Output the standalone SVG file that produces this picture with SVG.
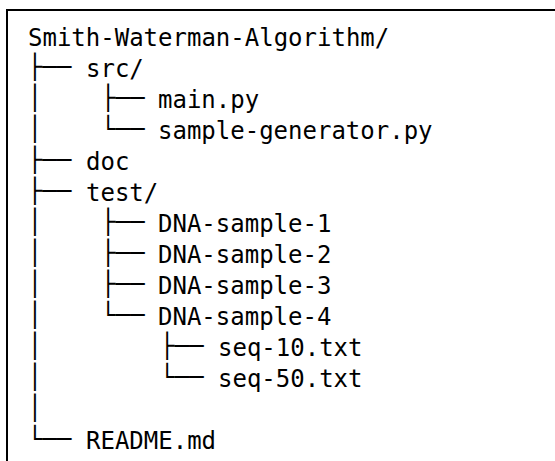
<svg xmlns="http://www.w3.org/2000/svg" width="555" height="461" viewBox="0 0 555 461">
  <style>
    text { font-family: "DejaVu Sans Mono", "Liberation Mono", monospace; font-size: 24px; fill: #000; white-space: pre; }
    .frame { fill: none; stroke: #000; stroke-width: 2; }
  </style>
  <rect width="555" height="461" fill="#fff"/>
  <!-- frame: open on the right and bottom -->
  <path class="frame" d="M7,461 V10 H555"/>

  <!-- tree branches drawn with box-drawing characters -->
  <g id="connectors" transform="translate(0,-2)">
    <!-- level 1 -->
    <text x="27.8" y="77">├──</text>
    <text x="27.8" y="108">│</text>
    <text x="27.8" y="139">│</text>
    <text x="27.8" y="170">├──</text>
    <text x="27.8" y="201">├──</text>
    <text x="27.8" y="232">│</text>
    <text x="27.8" y="263">│</text>
    <text x="27.8" y="294">│</text>
    <text x="27.8" y="325">│</text>
    <text x="27.8" y="356">│</text>
    <text x="27.8" y="387">│</text>
    <text x="27.8" y="418">│</text>
    <text x="27.8" y="449">└──</text>
    <!-- level 2 -->
    <text x="101" y="108">├──</text>
    <text x="101" y="139">└──</text>
    <text x="101" y="232">├──</text>
    <text x="101" y="263">├──</text>
    <text x="101" y="294">├──</text>
    <text x="101" y="325">└──</text>
    <!-- level 3 -->
    <text x="160" y="356">├──</text>
    <text x="160" y="387">└──</text>
  </g>

  <g id="root"><text x="28" y="46">Smith-Waterman-Algorithm/</text></g>
  <g id="src"><text x="86" y="77">src/</text></g>
  <g id="main-py"><text x="158" y="108">main.py</text></g>
  <g id="sample-generator-py"><text x="158" y="139">sample-generator.py</text></g>
  <g id="doc"><text x="86" y="170">doc</text></g>
  <g id="test"><text x="86" y="201">test/</text></g>
  <g id="dna-sample-1"><text x="158" y="232">DNA-sample-1</text></g>
  <g id="dna-sample-2"><text x="158" y="263">DNA-sample-2</text></g>
  <g id="dna-sample-3"><text x="158" y="294">DNA-sample-3</text></g>
  <g id="dna-sample-4"><text x="158" y="325">DNA-sample-4</text></g>
  <g id="seq-10"><text x="218" y="356">seq-10.txt</text></g>
  <g id="seq-50"><text x="218" y="387">seq-50.txt</text></g>
  <g id="readme"><text x="86" y="449">README.md</text></g>
</svg>
